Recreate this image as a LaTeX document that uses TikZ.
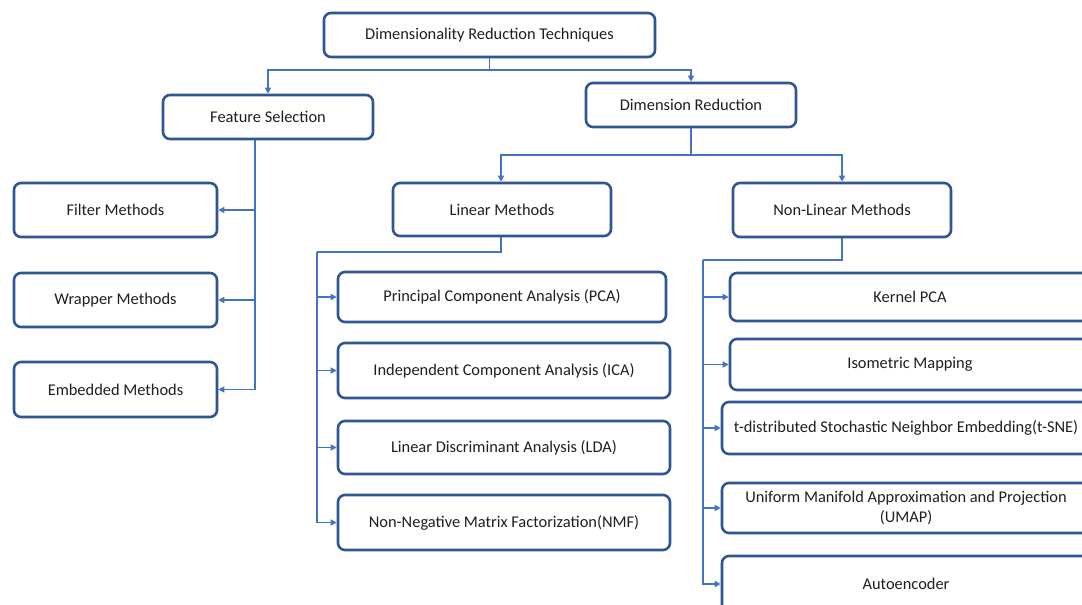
\documentclass[tikz,border=0pt]{standalone}
\usepackage{fontspec}
\setmainfont{Carlito}
\usetikzlibrary{arrows.meta,calc}
\definecolor{boxblue}{HTML}{2F5597}
\definecolor{linkblue}{HTML}{4472C4}
\definecolor{txt}{HTML}{1F1F1F}
\tikzset{
  box/.style={rectangle, rounded corners=7pt, draw=boxblue, line width=2.6pt,
    fill=white, inner sep=0pt, text=txt, font=\fontsize{16.4}{20}\selectfont, align=center},
  conn/.style={draw=linkblue, line width=1.4pt},
  arr/.style={conn, -{Triangle[length=6pt,width=6pt]}},
}
\begin{document}
\begin{tikzpicture}[x=1pt,y=-1pt]
\fill[white] (0,0) rectangle (1082,605);
\useasboundingbox (0,0) rectangle (1082,605);
\clip (0,0) rectangle (1082,605);

% boxes: root and the two branches
\node[box, minimum width=331, minimum height=44] (top) at (489.5,35) {Dimensionality Reduction Techniques};
\node[box, minimum width=210, minimum height=44] (fs)  at (268,117) {Feature Selection};
\node[box, minimum width=210, minimum height=44] (dr)  at (691,105) {Dimension Reduction};

% feature selection methods
\node[box, minimum width=203, minimum height=54] (filt) at (115.5,210) {Filter Methods};
\node[box, minimum width=203, minimum height=54] (wrap) at (115.5,300) {Wrapper Methods};
\node[box, minimum width=203, minimum height=55] (emb)  at (115.5,389.5) {Embedded Methods};

% dimension reduction families
\node[box, minimum width=218, minimum height=53] (lin)  at (502,209.5) {Linear Methods};
\node[box, minimum width=218, minimum height=54] (nlin) at (842,210) {Non-Linear Methods};

% linear methods
\node[box, minimum width=328, minimum height=50] (pca) at (502,297) {Principal Component Analysis (PCA)};
\node[box, minimum width=332, minimum height=55] (ica) at (504,370.5) {Independent Component Analysis (ICA)};
\node[box, minimum width=332, minimum height=53] (lda) at (504,447.5) {Linear Discriminant Analysis (LDA)};
\node[box, minimum width=332, minimum height=55] (nmf) at (504,522.5) {Non-Negative Matrix Factorization(NMF)};

% non-linear methods
\node[box, minimum width=360, minimum height=48] (kpca) at (910,297) {Kernel PCA};
\node[box, minimum width=360, minimum height=51] (iso)  at (910,364.5) {Isometric Mapping};
\node[box, minimum width=368, minimum height=52] (tsne) at (906,428) {t-distributed Stochastic Neighbor Embedding(t-SNE)};
\node[box, minimum width=368, minimum height=50] (umap) at (906,508) {Uniform Manifold Approximation and Projection\\(UMAP)};
\node[box, minimum width=368, minimum height=56] (auto) at (906,584) {Autoencoder};

% bus points
\coordinate (b1) at (489.5,70);
\coordinate (b2) at (691,155);
\coordinate (b3) at (317,252);
\coordinate (b4) at (703,260);

% root to branches
\draw[conn] (top.south) -- (b1);
\draw[arr] (b1) -| (fs.north);
\draw[arr] (b1) -| (dr.north);

% feature selection
\draw[arr] ([xshift=-13pt]fs.south) |- (filt.east);
\draw[arr] ([xshift=-13pt]fs.south) |- (wrap.east);
\draw[arr] ([xshift=-13pt]fs.south) |- (emb.east);

% dimension reduction
\draw[conn] (dr.south) -- (b2);
\draw[arr] (b2) -| ([xshift=-1pt]lin.north);
\draw[arr] (b2) -| (nlin.north);

% linear methods
\draw[conn] ([xshift=-1pt]lin.south) |- (b3);
\draw[arr] (b3) |- (pca.west);
\draw[arr] (b3) |- (ica.west);
\draw[arr] (b3) |- (lda.west);
\draw[arr] (b3) |- (nmf.west);

% non-linear methods
\draw[conn, line width=2.6pt] (nlin.south) |- (b4);
\draw[arr] (b4) |- (kpca.west);
\draw[arr] (b4) |- (iso.west);
\draw[arr] (b4) |- (tsne.west);
\draw[arr] (b4) |- (umap.west);
\draw[arr] (b4) |- (auto.west);
\end{tikzpicture}
\end{document}
